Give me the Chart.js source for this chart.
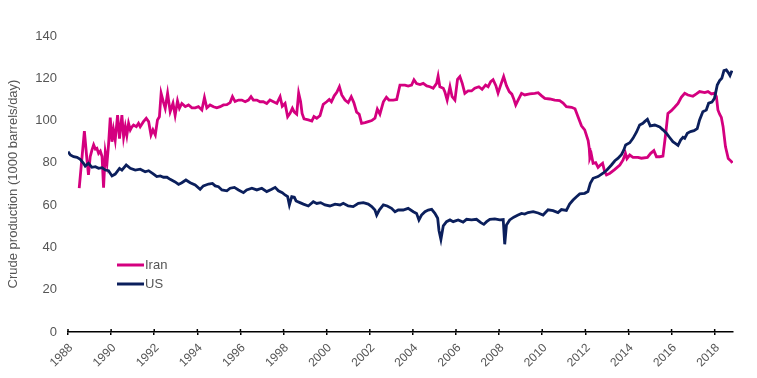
<!DOCTYPE html>
<html>
<head>
<meta charset="utf-8">
<script src="https://cdn.jsdelivr.net/npm/chart.js@4"></script>
<style>
  body { margin: 0; background: #fff; }
  #wrap { width: 757px; height: 378px; }
</style>
</head>
<body>
<div id="wrap"><canvas id="productionChart" width="757" height="378"></canvas></div>
<script>
// monthly-ish readings, x in decimal years
const iranYears = [
  1988.52, 1988.76, 1988.88, 1988.95, 1989.03, 1989.11, 1989.19, 1989.27, 1989.34, 1989.42,
  1989.50, 1989.58, 1989.65, 1989.73, 1989.81, 1989.88, 1989.96, 1990.04, 1990.11, 1990.19,
  1990.30, 1990.39, 1990.50, 1990.58, 1990.66, 1990.73, 1990.81, 1990.89, 1990.97, 1991.04,
  1991.17, 1991.27, 1991.35, 1991.50, 1991.63, 1991.74, 1991.85, 1991.94, 1992.05, 1992.15,
  1992.24, 1992.32, 1992.42, 1992.51, 1992.62, 1992.74, 1992.87, 1992.97, 1993.08, 1993.17,
  1993.28, 1993.44, 1993.59, 1993.75, 1993.90, 1994.05, 1994.21, 1994.33, 1994.44, 1994.59,
  1994.75, 1994.90, 1995.06, 1995.21, 1995.37, 1995.52, 1995.63, 1995.75, 1995.91, 1996.06,
  1996.22, 1996.37, 1996.49, 1996.60, 1996.76, 1996.91, 1997.06, 1997.22, 1997.37, 1997.53,
  1997.69, 1997.84, 1997.94, 1998.07, 1998.19, 1998.30, 1998.41, 1998.50, 1998.61, 1998.70,
  1998.79, 1998.86, 1998.95, 1999.15, 1999.31, 1999.41, 1999.54, 1999.69, 1999.84, 2000.00,
  2000.12, 2000.22, 2000.35, 2000.47, 2000.59, 2000.70, 2000.85, 2001.00, 2001.14, 2001.26,
  2001.39, 2001.51, 2001.62, 2001.78, 2001.93, 2002.09, 2002.24, 2002.35, 2002.47, 2002.63,
  2002.77, 2002.89, 2003.09, 2003.25, 2003.40, 2003.63, 2003.78, 2003.94, 2004.05, 2004.17,
  2004.33, 2004.48, 2004.64, 2004.79, 2004.94, 2005.10, 2005.17, 2005.25, 2005.41, 2005.48,
  2005.59, 2005.72, 2005.82, 2005.95, 2006.07, 2006.18, 2006.29, 2006.41, 2006.56, 2006.72,
  2006.87, 2007.06, 2007.21, 2007.37, 2007.49, 2007.61, 2007.72, 2007.85, 2007.95, 2008.08,
  2008.21, 2008.34, 2008.47, 2008.59, 2008.67, 2008.77, 2008.88, 2009.04, 2009.19, 2009.42,
  2009.65, 2009.81, 2009.96, 2010.12, 2010.35, 2010.58, 2010.81, 2010.97, 2011.12, 2011.36,
  2011.52, 2011.66, 2011.82, 2011.97, 2012.13, 2012.18, 2012.21, 2012.28, 2012.36, 2012.48,
  2012.59, 2012.70, 2012.80, 2012.90, 2012.98, 2013.14, 2013.37, 2013.60, 2013.75, 2013.86,
  2013.93, 2014.06, 2014.21, 2014.44, 2014.60, 2014.88, 2015.03, 2015.18, 2015.30, 2015.45,
  2015.60, 2015.73, 2015.83, 2015.99, 2016.14, 2016.30, 2016.45, 2016.61, 2016.76, 2016.99,
  2017.15, 2017.30, 2017.54, 2017.69, 2017.85, 2018.00, 2018.08, 2018.15, 2018.23, 2018.31,
  2018.39, 2018.50, 2018.63, 2018.78, 2018.82
];
const iranValues = [
  68.0, 95.0, 81.4, 74.3, 82.9, 86.0, 88.5, 86.5, 86.9, 84.5,
  85.5, 83.0, 68.3, 85.0, 80.0, 88.5, 101.4, 90.0, 95.6, 90.8,
  102.6, 91.5, 102.6, 92.2, 97.1, 93.0, 98.7, 95.6, 97.1, 97.9,
  97.1, 98.7, 97.1, 99.5, 101.1, 99.5, 93.2, 95.6, 93.2, 100.3,
  101.8, 112.9, 109.0, 105.8, 112.9, 104.2, 108.2, 102.5, 109.3, 105.8,
  108.1, 106.6, 107.4, 106.0, 106.0, 106.6, 105.0, 110.9, 106.0, 107.4,
  106.5, 106.0, 106.6, 107.4, 107.5, 108.5, 111.3, 109.0, 109.7, 109.7,
  108.9, 109.7, 111.3, 109.7, 109.7, 108.9, 108.9, 108.1, 109.7, 108.9,
  108.1, 111.3, 106.8, 108.1, 101.8, 103.4, 105.8, 104.0, 103.0, 113.0,
  109.0, 103.4, 100.8, 100.3, 99.8, 101.9, 101.1, 102.3, 107.7, 108.9,
  110.0, 108.9, 111.7, 113.4, 116.0, 112.1, 109.7, 108.5, 111.3, 108.5,
  104.0, 103.0, 98.7, 99.0, 99.5, 100.0, 101.1, 105.4, 103.0, 108.9,
  111.0, 109.7, 109.7, 110.0, 116.8, 116.8, 116.3, 116.8, 119.3, 117.5,
  117.0, 117.6, 116.4, 116.0, 115.3, 117.6, 121.0, 116.0, 115.3, 113.7,
  109.7, 116.0, 111.3, 109.7, 119.5, 120.8, 117.6, 112.9, 114.0, 114.0,
  115.3, 116.0, 114.8, 116.8, 116.0, 118.4, 119.3, 116.5, 113.0, 117.0,
  120.8, 116.5, 113.7, 112.5, 110.5, 107.4, 109.7, 112.9, 112.1, 112.6,
  112.9, 113.2, 111.8, 110.5, 110.2, 109.7, 109.4, 108.3, 106.6, 106.3,
  105.6, 101.8, 97.5, 95.6, 90.5, 87.0, 82.2, 84.0, 79.8, 80.1,
  77.9, 79.0, 79.8, 75.8, 74.3, 75.1, 76.9, 79.0, 81.4, 84.5,
  82.0, 83.7, 82.6, 82.6, 82.2, 82.6, 84.5, 85.8, 82.9, 82.9,
  83.2, 94.0, 103.4, 104.7, 106.3, 108.1, 111.0, 112.9, 112.1, 111.5,
  112.6, 113.7, 113.2, 113.7, 112.6, 113.0, 111.3, 105.0, 103.0, 101.5,
  97.1, 87.7, 82.0, 80.6, 80.0
];

const usYears = [
  1988.00, 1988.11, 1988.26, 1988.42, 1988.57, 1988.72, 1988.80, 1988.95, 1989.11, 1989.27,
  1989.42, 1989.58, 1989.73, 1989.88, 1990.04, 1990.19, 1990.39, 1990.50, 1990.70, 1990.89,
  1991.12, 1991.35, 1991.58, 1991.74, 1991.97, 1992.12, 1992.28, 1992.43, 1992.59, 1992.74,
  1992.97, 1993.13, 1993.28, 1993.47, 1993.67, 1993.90, 1994.13, 1994.28, 1994.52, 1994.70,
  1994.83, 1994.98, 1995.14, 1995.37, 1995.52, 1995.72, 1995.91, 1996.14, 1996.29, 1996.53,
  1996.76, 1996.99, 1997.22, 1997.45, 1997.61, 1997.76, 1997.94, 1998.07, 1998.19, 1998.27,
  1998.38, 1998.50, 1998.58, 1998.76, 1998.92, 1999.15, 1999.38, 1999.54, 1999.72, 1999.92,
  2000.15, 2000.39, 2000.62, 2000.77, 2001.00, 2001.23, 2001.47, 2001.70, 2001.93, 2002.09,
  2002.24, 2002.32, 2002.44, 2002.63, 2002.81, 2003.01, 2003.17, 2003.32, 2003.55, 2003.78,
  2004.02, 2004.17, 2004.28, 2004.40, 2004.56, 2004.71, 2004.87, 2005.02, 2005.15, 2005.21,
  2005.30, 2005.41, 2005.56, 2005.72, 2005.87, 2006.10, 2006.33, 2006.49, 2006.72, 2006.95,
  2007.15, 2007.29, 2007.42, 2007.57, 2007.80, 2008.03, 2008.19, 2008.26, 2008.34, 2008.49,
  2008.68, 2008.88, 2009.04, 2009.19, 2009.34, 2009.58, 2009.81, 2010.04, 2010.27, 2010.50,
  2010.73, 2010.89, 2011.12, 2011.27, 2011.43, 2011.59, 2011.74, 2011.97, 2012.12, 2012.23,
  2012.36, 2012.59, 2012.82, 2013.00, 2013.21, 2013.37, 2013.52, 2013.68, 2013.78, 2013.87,
  2014.06, 2014.21, 2014.37, 2014.52, 2014.67, 2014.75, 2014.88, 2015.01, 2015.22, 2015.45,
  2015.60, 2015.76, 2015.91, 2016.06, 2016.22, 2016.30, 2016.42, 2016.53, 2016.61, 2016.73,
  2016.88, 2017.04, 2017.19, 2017.30, 2017.45, 2017.61, 2017.72, 2017.87, 2017.99, 2018.12,
  2018.23, 2018.33, 2018.43, 2018.54, 2018.63, 2018.71, 2018.80
];
const usValues = [
  85.3, 83.7, 82.9, 82.6, 81.7, 79.8, 78.5, 79.8, 77.9, 78.2,
  77.4, 77.7, 76.6, 76.3, 73.8, 74.7, 77.4, 76.6, 79.0, 77.4,
  76.6, 77.0, 75.8, 76.3, 74.7, 73.5, 73.8, 73.2, 73.2, 72.2,
  71.0, 69.8, 70.6, 71.9, 70.6, 69.5, 67.5, 69.1, 70.0, 70.3,
  69.1, 68.7, 67.2, 66.8, 68.0, 68.4, 67.2, 65.9, 67.2, 68.0,
  67.2, 68.0, 66.4, 67.5, 68.4, 66.8, 65.9, 64.8, 64.0, 60.1,
  64.0, 63.7, 62.0, 61.2, 60.5, 59.6, 61.6, 60.8, 61.2, 60.1,
  59.6, 60.5, 60.1, 60.9, 59.6, 59.3, 60.9, 61.2, 60.5, 59.3,
  57.7, 55.3, 57.7, 60.1, 59.6, 58.5, 56.9, 57.7, 57.7, 58.5,
  56.9, 56.1, 53.0, 55.3, 56.9, 57.7, 58.0, 56.1, 53.8, 48.0,
  43.8, 50.2, 52.2, 53.0, 52.2, 53.0, 52.0, 53.3, 53.0, 53.3,
  51.7, 50.9, 52.2, 53.3, 53.5, 53.0, 53.2, 41.5, 50.6, 53.0,
  54.3, 55.3, 56.1, 55.8, 56.5, 56.9, 56.3, 55.3, 57.8, 57.4,
  56.5, 57.9, 57.5, 60.5, 62.4, 64.0, 65.3, 65.6, 66.4, 70.3,
  72.7, 73.5, 75.1, 76.6, 79.0, 81.0, 82.2, 84.0, 86.0, 88.5,
  89.5, 91.6, 94.5, 97.9, 98.7, 99.5, 100.6, 97.5, 97.9, 97.0,
  95.6, 94.0, 92.0, 90.0, 88.9, 88.3, 90.8, 92.1, 91.6, 94.0,
  94.8, 95.2, 96.2, 100.3, 104.2, 105.0, 108.2, 108.7, 110.5, 116.8,
  118.9, 120.0, 123.6, 124.0, 122.7, 121.3, 123.6
];

const seriesNames = ['Iran', 'US'];
const seriesColors = ['#d4007f', '#0b1f5c'];
const xMin = 1988, xMax = 2018.85, xStep = 2;
const yMin = 0, yMax = 140, yStep = 20;

const toPoints = (xs, ys) => xs.map((x, i) => ({ x: x, y: ys[i] }));
const labelFont = '"Liberation Sans", Arial, sans-serif';

// tick marks that cross the axis line, and slanted year labels
const xAxisExtras = {
  id: 'xAxisExtras',
  afterDraw(chart) {
    const { ctx, scales: { x }, chartArea } = chart;
    ctx.save();
    ctx.strokeStyle = '#000';
    ctx.lineWidth = 1.5;
    x.ticks.forEach(t => {
      const px = x.getPixelForValue(t.value);
      ctx.beginPath();
      ctx.moveTo(px, chartArea.bottom - 3);
      ctx.lineTo(px, chartArea.bottom);
      ctx.stroke();
    });
    ctx.fillStyle = '#555';
    ctx.font = '12px ' + labelFont;
    ctx.textAlign = 'right';
    ctx.textBaseline = 'middle';
    x.ticks.forEach(t => {
      const px = x.getPixelForValue(t.value);
      ctx.save();
      ctx.translate(px + 3, chartArea.bottom + 14);
      ctx.rotate(-Math.PI / 4);
      ctx.fillText(String(t.value), 0, 0);
      ctx.restore();
    });
    ctx.restore();
  }
};

const inlineLegend = {
  id: 'inlineLegend',
  afterDraw(chart) {
    const { ctx, chartArea } = chart;
    ctx.save();
    ctx.font = '13px ' + labelFont;
    ctx.textBaseline = 'middle';
    chart.data.datasets.forEach((ds, i) => {
      const x0 = chartArea.left + 49;
      const y0 = chartArea.top + 229 + i * 19;
      ctx.strokeStyle = ds.borderColor;
      ctx.lineWidth = 3;
      ctx.beginPath();
      ctx.moveTo(x0, y0);
      ctx.lineTo(x0 + 27, y0);
      ctx.stroke();
      ctx.fillStyle = '#555';
      ctx.fillText(ds.label, x0 + 28, y0);
    });
    ctx.restore();
  }
};

document.addEventListener('DOMContentLoaded', () => {
  const ctx = document.getElementById('productionChart').getContext('2d');
  try {
    new Chart(ctx, {
      type: 'line',
      data: {
        datasets: [
          {
            label: seriesNames[0],
            data: toPoints(iranYears, iranValues),
            borderColor: seriesColors[0],
            borderWidth: 2.8,
            pointRadius: 0,
            tension: 0,
            order: 2
          },
          {
            label: seriesNames[1],
            data: toPoints(usYears, usValues),
            borderColor: seriesColors[1],
            borderWidth: 2.8,
            pointRadius: 0,
            tension: 0,
            order: 1
          }
        ]
      },
      options: {
        responsive: false,
        animation: false,
        layout: { padding: { top: 36, right: 24, bottom: 0, left: 0 } },
        plugins: {
          legend: { display: false },
          tooltip: { enabled: false }
        },
        scales: {
          x: {
            type: 'linear',
            min: xMin,
            max: xMax,
            afterFit: (scale) => { scale.height = 46; },
            grid: {
              display: true,
              drawOnChartArea: false,
              drawTicks: true,
              tickLength: 3,
              color: '#000',
              lineWidth: 1.5
            },
            border: { display: true, color: '#000', width: 1.5 },
            ticks: {
              display: false,
              stepSize: xStep,
              includeBounds: false,
              autoSkip: false,
              maxRotation: 0
            }
          },
          y: {
            min: yMin,
            max: yMax,
            afterFit: (scale) => { scale.width = 68; },
            grid: { display: false, drawTicks: false },
            border: { display: false },
            ticks: {
              stepSize: yStep,
              padding: 11,
              color: '#555',
              font: { family: labelFont, size: 13 }
            },
            title: {
              display: true,
              text: 'Crude production (1000 barrels/day)',
              color: '#555',
              padding: { top: 6, bottom: 0 },
              font: { family: labelFont, size: 13 }
            }
          }
        }
      },
      plugins: [xAxisExtras, inlineLegend]
    });
  } catch (error) {
    console.error("Chart.js Error: ", error);
  }
});
</script>
</body>
</html>
